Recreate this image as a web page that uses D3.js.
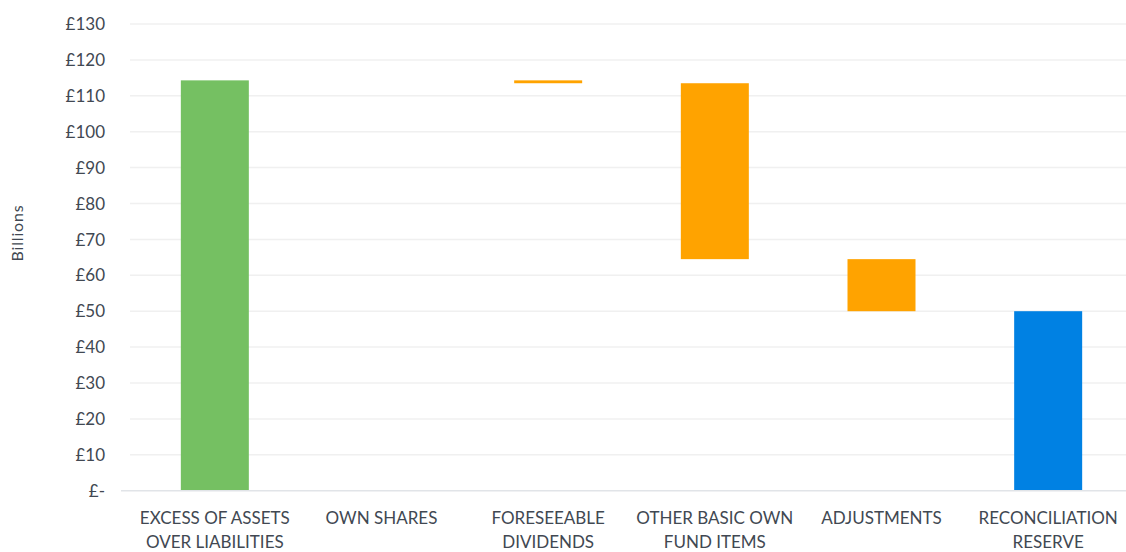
<!DOCTYPE html>
<html><head><meta charset="utf-8">
<script src="https://cdn.jsdelivr.net/npm/d3@7"></script>
<style>
html,body{margin:0;padding:0;background:#fff;}
svg{display:block;font-family:Lato,"Open Sans",sans-serif;}
</style></head>
<body>
<svg id="chart" width="1126" height="552"></svg>
<script>
const categories = [["EXCESS OF ASSETS","OVER LIABILITIES"],["OWN SHARES"],["FORESEEABLE","DIVIDENDS"],["OTHER BASIC OWN","FUND ITEMS"],["ADJUSTMENTS"],["RECONCILIATION","RESERVE"]];
const values = [114.3, 0, -0.8, -49.0, -14.5, 50.0];
const kinds = ["total","delta","delta","delta","delta","total"];
const yTicks = [0,10,20,30,40,50,60,70,80,90,100,110,120,130];

const colors = {start:"#75C062", delta:"#FFA300", end:"#0081E3"};
const svg = d3.select("#chart");
const keys = categories.map(c => c.join(" "));
const x = d3.scaleBand().domain(keys).range([131.5, 1131.5]).paddingInner(0.592).paddingOuter(0.296);
const y = d3.scaleLinear().domain([0,130]).range([490.7, 24]);

// build waterfall
let run = 0;
const bars = values.map((v,i) => {
  let lo, hi, col;
  if (kinds[i] === "total") { lo = 0; hi = v; run = v; col = i === 0 ? colors.start : colors.end; }
  else { const a = run, b = run + v; lo = Math.min(a,b); hi = Math.max(a,b); run = b; col = colors.delta; }
  return {key: keys[i], lo, hi, col, v};
});

// gridlines
svg.append("g").selectAll("line").data(yTicks.filter(t => t > 0)).join("line")
  .attr("x1",130).attr("x2",1126).attr("y1",d=>y(d)).attr("y2",d=>y(d))
  .attr("stroke","#f0f0f0").attr("stroke-width",1.5);

// y labels
svg.append("g").selectAll("text").data(yTicks).join("text")
  .attr("x",105).attr("y",d=>y(d)).attr("dy","0.36em").attr("text-anchor","end")
  .attr("font-size",17).attr("fill","#414852")
  .text(d => d === 0 ? "£-" : "£" + d);

// bars
svg.append("g").selectAll("rect").data(bars.filter(b => b.v !== 0)).join("rect")
  .attr("x", d => x(d.key)).attr("width", x.bandwidth())
  .attr("y", d => y(d.hi)).attr("height", d => Math.max(0, y(d.lo) - y(d.hi)))
  .attr("fill", d => d.col);

// baseline
svg.append("line").attr("x1",121).attr("x2",1126).attr("y1",y(0)).attr("y2",y(0))
  .attr("stroke","#e1e4e8").attr("stroke-width",1.5);

// category labels
const cg = svg.append("g").selectAll("text").data(categories).join("text")
  .attr("text-anchor","middle").attr("font-size",17).attr("fill","#414852")
  .attr("transform",(d,i)=>`translate(${x(keys[i]) + x.bandwidth()/2},524)`);
cg.selectAll("tspan").data(d=>d).join("tspan")
  .attr("x",0).attr("dy",(d,i)=> i===0 ? 0 : 23.5).text(d=>d);

// y title
svg.append("text").attr("transform","translate(23,233) rotate(-90)")
  .attr("text-anchor","middle").attr("font-size",16).attr("letter-spacing",0.8)
  .attr("fill","#414852").text("Billions");
</script>
</body></html>
